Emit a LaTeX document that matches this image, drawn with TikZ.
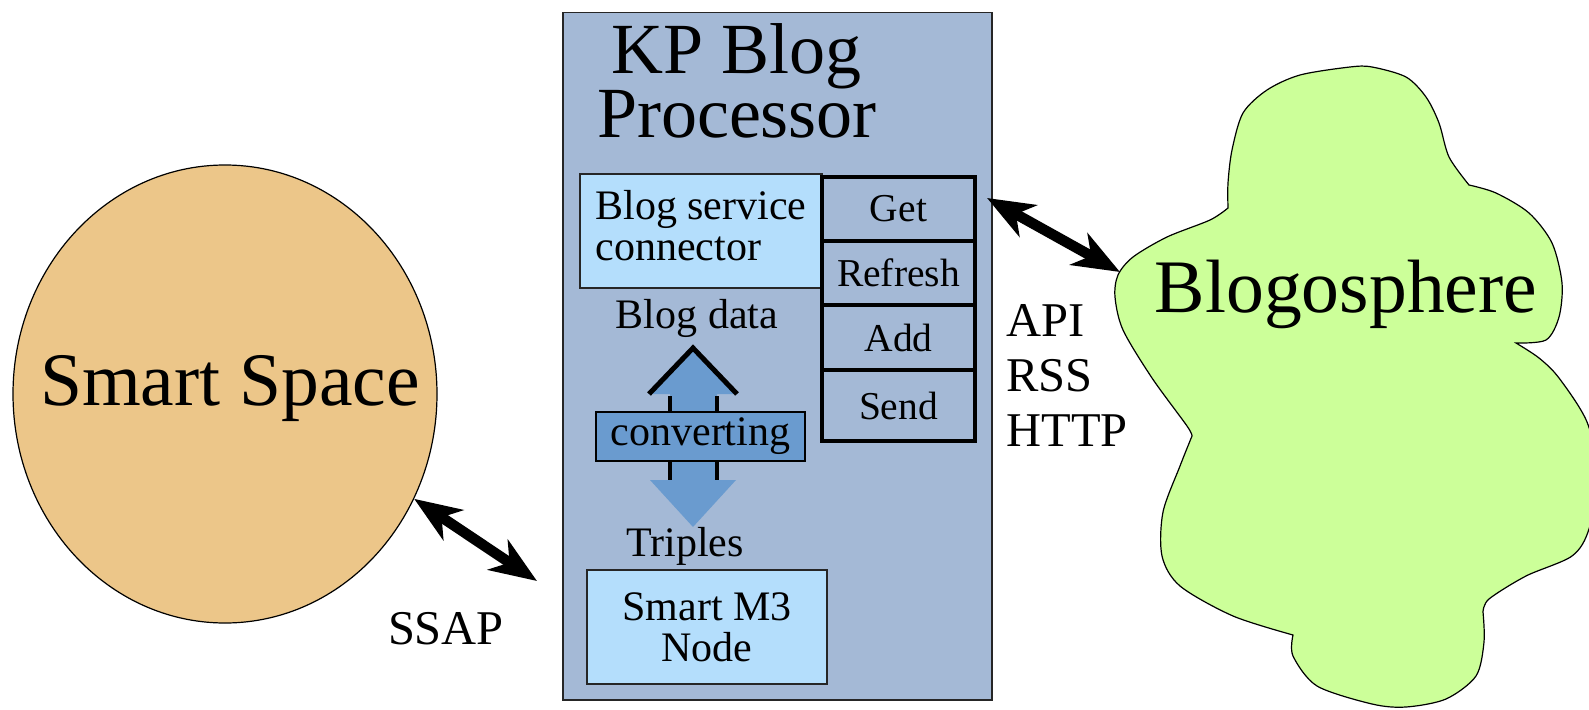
\documentclass[tikz,border=0pt]{standalone}
\usepackage{fontspec}
\setmainfont{Liberation Serif}
\usepackage{tikz}
\usetikzlibrary{positioning,arrows.meta,shapes.geometric}
\definecolor{spacecol}{HTML}{ECC689}
\definecolor{cloudcol}{HTML}{CCFF99}
\definecolor{proccol}{HTML}{A4B9D6}
\definecolor{connectcol}{HTML}{B4DEFC}
\definecolor{convcol}{HTML}{6A9BCF}
\tikzset{
  bigtext/.style={font=\fontsize{75.6}{80}\selectfont},
  titletext/.style={font=\fontsize{72}{61}\selectfont},
  midtext/.style={font=\fontsize{42}{41}\selectfont},
  optext/.style={font=\fontsize{39.5}{40}\selectfont},
  prottext/.style={font=\fontsize{48.5}{55}\selectfont},
  procbox/.style={draw=black!85, line width=1.5pt, fill=proccol, inner sep=0pt},
  lightbox/.style={draw=black!85, line width=1.5pt, fill=connectcol, inner sep=0pt, outer sep=0pt},
  opbox/.style={draw, line width=4pt, fill=proccol, minimum width=153pt, inner sep=0pt, outer sep=0pt, optext},
  twoway/.style={{Stealth[length=47pt,width=36pt,inset=14pt]}-{Stealth[length=47pt,width=36pt,inset=14pt]}, line width=10.5pt},
}

\begin{document}
\begin{tikzpicture}[x=1pt,y=-1pt]
\useasboundingbox (0,0) rectangle (1589,709);
%Nodes
\node[ellipse, draw, line width=1.2pt, fill=spacecol, minimum width=424pt, minimum height=458pt,
      inner sep=0pt] (space) at (225,394) {};
\node[bigtext, anchor=base] (spacetext) at (230,405) {Smart Space};

%Cloud
\filldraw[fill=cloudcol, line width=1.2pt]
  plot[smooth] coordinates {(1228,208) (1228,183) (1232,150) (1243,113) (1267,90) (1300,75) (1350,67) (1372,67) (1406,77) (1426,97) (1439,123) (1449,157) (1469,185)}
  -- plot[smooth] coordinates {(1469,185) (1496,193) (1529,213) (1552,243) (1562,283) (1559,317) (1546,340) (1516,343)}
  -- plot[smooth] coordinates {(1516,343) (1539,358) (1559,378) (1587,422) (1598,475) (1589,529) (1572,556) (1526,576) (1489,599) (1483,612)}
  -- plot[smooth] coordinates {(1483,612) (1484,642) (1476,676) (1446,699) (1406,707) (1372,704) (1317,686) (1293,656) (1293,635)}
  -- plot[smooth] coordinates {(1293,635) (1233,616) (1180,586) (1162,556) (1163,512) (1180,466) (1192,436)}
  -- plot[smooth] coordinates {(1192,436) (1187,426) (1152,378) (1123,330) (1115,297) (1118,275) (1133,257) (1167,237) (1210,220) (1228,208)}
  -- cycle;
\node[bigtext, anchor=base] (blogo) at (1346,312) {Blogosphere};
\coordinate (cloudtip) at (1120,272);

\node[procbox, minimum width=429pt, minimum height=687pt, anchor=north west] (kp) at (562,12) {};
\node[titletext, align=center, anchor=base] (title) at (737,137) {KP Blog\\Processor};

\node[lightbox, minimum width=242pt, minimum height=114pt, anchor=north west, align=left,
      text depth=12pt, midtext] (connector) at (580,174) {Blog service\\connector};

\node[opbox, minimum height=64pt] (get) at (898.5,209) {Get};
\node[opbox, minimum height=64pt, below=0pt of get] (refresh) {Refresh};
\node[opbox, minimum height=65pt, below=0pt of refresh] (add) {Add};
\node[opbox, minimum height=71pt, below=0pt of add] (send) {Send};

\node[midtext, anchor=base] (data) at (697,328) {Blog data};

%converting arrow
\fill[convcol] (670,394) -- (649,394) -- (693,348) -- (737,394) -- (717,394) -- (717,480)
  -- (736,480) -- (693,527) -- (650,480) -- (670,480) -- cycle;
\draw[line width=5pt] (649,394) -- (693,348) -- (737,394);
\draw[line width=4pt] (670,396) -- (670,412) (717,396) -- (717,412) (670,461) -- (670,480) (717,461) -- (717,480);
\node[draw, line width=1.5pt, fill=convcol, minimum width=209pt, minimum height=49pt, inner sep=0pt, midtext] (conv) at (700.5,436.5) {converting};

\node[midtext, anchor=base] (triples) at (685,556) {Triples};
\node[lightbox, minimum width=240pt, minimum height=114pt, align=center, midtext] (m3) at (707,627) {Smart M3\\Node};

\node[prottext, align=left, anchor=base west] (proto) at (1003,446) {API\\RSS\\HTTP};
\node[prottext, anchor=base] (ssap) at (446,644) {SSAP};

%Lines
\coordinate (gettip) at ([xshift=12pt,yshift=-21pt]get.north east);
\coordinate (m3tip) at ([xshift=-50pt,yshift=-11pt]m3.north west);
\draw[twoway] (space.-29) -- (m3tip);
\draw[twoway] (gettip) -- (cloudtip);
\end{tikzpicture}
\end{document}
